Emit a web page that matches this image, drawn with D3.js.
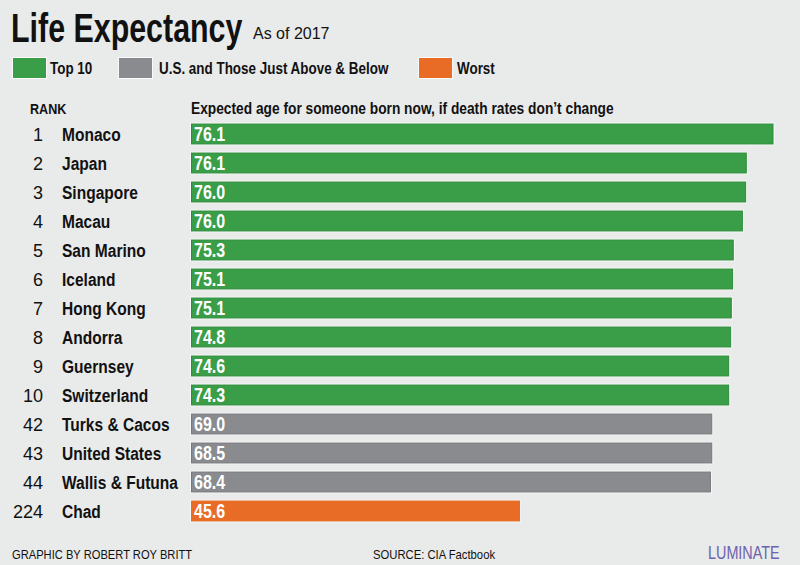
<!DOCTYPE html>
<html>
<head>
<meta charset="utf-8">
<script src="https://cdn.jsdelivr.net/npm/d3@7"></script>
<style>
  body { margin: 0; background: #e9eaea; }
  svg { display: block; }
  text { font-family: "Liberation Sans", Arial, Helvetica, sans-serif; }
</style>
</head>
<body>
<div id="chart"></div>
<script>
const width = 800;
const height = 565;

// data
const ranks = [1, 2, 3, 4, 5, 6, 7, 8, 9, 10, 42, 43, 44, 224];
const countries = ['Monaco', 'Japan', 'Singapore', 'Macau', 'San Marino', 'Iceland', 'Hong Kong',
    'Andorra', 'Guernsey', 'Switzerland', 'Turks & Cacos', 'United States', 'Wallis & Futuna', 'Chad'];
// printed labels
const labels = ['76.1', '76.1', '76.0', '76.0', '75.3', '75.1', '75.1', '74.8', '74.6', '74.3',
    '69.0', '68.5', '68.4', '45.6'];
// bar lengths (as drawn)
const barValues = [89.4, 85.3, 85.2, 84.7, 83.3, 83.2, 83.0, 82.9, 82.6, 82.6, 80.0, 80.0, 79.8, 50.5];
const groups = ['top', 'top', 'top', 'top', 'top', 'top', 'top', 'top', 'top', 'top', 'us', 'us', 'us', 'worst'];

const legendItems = [
    {key: 'top', label: 'Top 10'},
    {key: 'us', label: 'U.S. and Those Just Above & Below'},
    {key: 'worst', label: 'Worst'}
];

const fillColor = {top: '#3a9e48', us: '#8a8b8f', worst: '#e86c25'};
const edgeColor = {top: '#2b8e3a', us: '#77787c', worst: '#e86c25'};

window.addEventListener('load', () => {
    drawChart();
});

// condensed text: squeeze a normal face sideways
const addText = (parent, x, y, sx, str) => {
    return parent.append('text')
        .attr('transform', 'translate(' + x + ',' + y + ') scale(' + sx + ',1)')
        .attr('fill', '#111')
        .text(str);
}

const drawChart = () => {
    const data = countries.map((c, i) => ({
        rank: ranks[i], country: c, label: labels[i], value: barValues[i], group: groups[i]
    }));

    const svg = d3.select('#chart')
        .append('svg')
        .attr('width', width)
        .attr('height', height);

    svg.append('rect')
        .attr('width', width)
        .attr('height', height)
        .attr('fill', '#e9eaea');

    // title
    addText(svg, 11, 42, 0.76, 'Life Expectancy')
        .attr('font-size', 40)
        .attr('font-weight', 'bold');

    addText(svg, 253, 39, 1, 'As of 2017')
        .attr('font-size', 16);

    // legend
    const legendX = [13, 119, 419];
    const legendTextX = [50, 159, 457];
    const legend = svg.selectAll('.legend')
        .data(legendItems)
        .enter()
        .append('g')
        .attr('class', 'legend');

    legend.append('rect')
        .attr('x', (d, i) => legendX[i] - 0.5)
        .attr('y', 57.5)
        .attr('width', 34)
        .attr('height', 21)
        .attr('fill', 'none')
        .attr('stroke', '#fafafa')
        .attr('stroke-width', 1);

    legend.append('rect')
        .attr('x', (d, i) => legendX[i])
        .attr('y', 58)
        .attr('width', 33)
        .attr('height', 20)
        .attr('fill', d => fillColor[d.key]);

    legend.each(function(d, i) {
        addText(d3.select(this), legendTextX[i], 74, 0.84, d.label)
            .attr('font-size', 16)
            .attr('font-weight', 'bold');
    });

    // column headers
    addText(svg, 30, 114, 0.84, 'RANK')
        .attr('font-size', 15)
        .attr('font-weight', 'bold');

    addText(svg, 191, 114, 0.86, 'Expected age for someone born now, if death rates don\u2019t change')
        .attr('font-size', 16)
        .attr('font-weight', 'bold');

    // scales
    const xScale = d3.scaleLinear()
        .domain([0, d3.max(barValues)])
        .range([191, 773.5]);

    const yScale = d3.scaleBand()
        .domain(countries)
        .range([119.5, 525.5])
        .paddingInner(0.28)
        .paddingOuter(0.14);

    const rows = svg.selectAll('.row')
        .data(data)
        .enter()
        .append('g')
        .attr('class', 'row');

    // light halo round each bar
    rows.append('rect')
        .attr('x', xScale(0) - 1)
        .attr('y', d => yScale(d.country) - 1)
        .attr('width', d => xScale(d.value) - xScale(0) + 2)
        .attr('height', yScale.bandwidth() + 2)
        .attr('fill', '#f7f7f7');

    rows.append('rect')
        .attr('x', xScale(0) + 0.5)
        .attr('y', d => yScale(d.country) + 0.5)
        .attr('width', d => xScale(d.value) - xScale(0) - 1)
        .attr('height', yScale.bandwidth() - 1)
        .attr('fill', d => fillColor[d.group])
        .attr('stroke', d => edgeColor[d.group])
        .attr('stroke-width', 1);

    const base = d => yScale(d.country) + yScale.bandwidth() / 2 + 6.5;

    rows.append('text')
        .attr('x', 43)
        .attr('y', base)
        .attr('text-anchor', 'end')
        .attr('font-size', 18)
        .attr('fill', '#111')
        .text(d => d.rank);

    rows.each(function(d) {
        const g = d3.select(this);
        addText(g, 62, base(d), 0.84, d.country)
            .attr('font-size', 18.5)
            .attr('font-weight', 'bold');
        addText(g, 194, base(d) + 0.5, 0.8, d.label)
            .attr('font-size', 20)
            .attr('font-weight', 'bold')
            .attr('fill', '#fff');
    });

    // footer
    addText(svg, 12, 559, 0.93, 'GRAPHIC BY ROBERT ROY BRITT')
        .attr('font-size', 12);

    addText(svg, 373, 559, 0.94, 'SOURCE: CIA Factbook')
        .attr('font-size', 12);

    addText(svg, 708, 559, 0.8, 'LUMINATE')
        .attr('font-size', 18)
        .attr('fill', '#6c63ac');
}
</script>
</body>
</html>
